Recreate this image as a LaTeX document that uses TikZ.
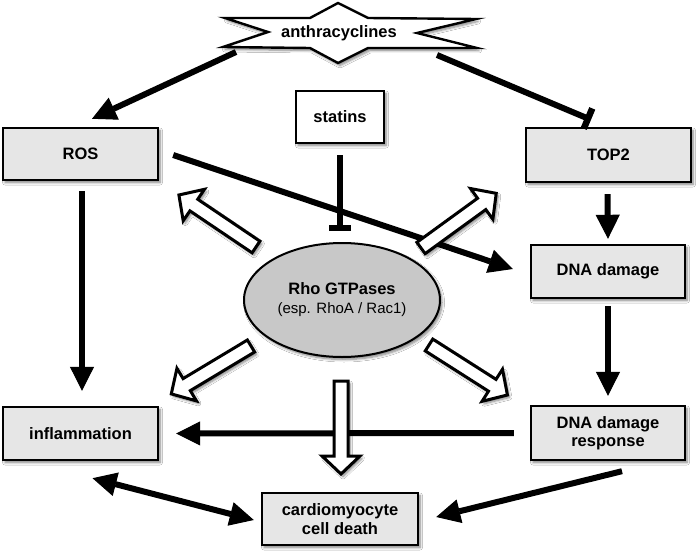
\documentclass[tikz,border=0pt]{standalone}
\usepackage{fontspec}
\setmainfont{Liberation Sans}
\usetikzlibrary{arrows.meta,shadows.blur,shapes.geometric,calc}
\definecolor{boxgray}{HTML}{E6E6E6}
\definecolor{ellgray}{HTML}{C8C8C8}
\tikzset{
 shad/.style={blur shadow={shadow xshift=2pt,shadow yshift=-2.5pt,shadow blur radius=2.5pt,shadow blur steps=6,shadow opacity=50}},
 box/.style={draw=black,line width=2.4pt,fill=boxgray,minimum width=155pt,minimum height=52pt,inner sep=0pt,align=center,font=\fontsize{16.5}{18.5}\selectfont\bfseries,shad},
 arr/.style={draw=black,line width=6pt,-{Triangle[length=24pt,width=24pt,fill=black,line width=1pt]}},
 dblarr/.style={draw=black,line width=6pt,{Triangle[length=24pt,width=24pt,fill=black,line width=1pt]}-{Triangle[length=24pt,width=24pt,fill=black,line width=1pt]}},
 inhib/.style={draw=black,line width=6pt,-{Bar[width=22pt,line width=6.5pt]}},
 hollow/.style={draw=black,fill=white,line width=3pt,line join=miter,shad},
 starshape/.style={draw=black,fill=white,line width=2.4pt,line join=miter,shad},
 pics/hollowarrow/.style={code={\path[hollow] (0,-7) -- (75,-7) -- (75,-19) -- (93,0) -- (75,19) -- (75,7) -- (0,7) -- cycle;}}
}
\begin{document}
\begin{tikzpicture}[x=1pt,y=-1pt]
\useasboundingbox[fill=white] (0,0) rectangle (700,556);

% anthracyclines shape
\path[starshape] (225,18) -- (310,18) -- (338,3) -- (368,18) -- (476,19) -- (417,33) -- (477,48) -- (368,48) -- (338,63) -- (310,48) -- (223,47) -- (268,32) -- cycle;
\node[inner sep=0pt,font=\fontsize{16.5}{18.5}\selectfont\bfseries] (anth) at (339,33) {anthracyclines};

% boxes
\node[box] (ros) at (80.5,154) {ROS};
\node[box,minimum width=165pt,minimum height=54pt] (top2) at (608.5,155) {TOP2};
\node[box,minimum width=154pt,minimum height=53pt] (dna) at (608,271.5) {DNA damage};
\node[box,minimum width=154pt,minimum height=54pt] (ddr) at (608,433) {DNA damage\\response};
\node[box,minimum height=53pt] (infl) at (80.5,433.5) {inflammation};
\node[box,minimum width=156pt] (cardio) at (340,519) {cardiomyocyte\\cell death};
\node[box,fill=white,minimum width=88pt] (statins) at (340,117) {statins};

% Rho GTPases
\node[ellipse,draw=black,line width=2pt,fill=ellgray,minimum width=196pt,minimum height=114pt,inner sep=0pt,align=center,font=\fontsize{16.5}{19}\selectfont,shad] (rho) at (342,300)
 {\bfseries Rho GTPases\\ \fontsize{15}{19}\selectfont (esp. RhoA / Rac1)};

% black connectors
\draw[arr] ($(anth)+(-103,19)$) -- ($(ros.north)+(11.5,-8)$);
\draw[inhib] ($(anth)+(98,22)$) -- ($(top2.north)+(-17.5,-7)$);
\draw[inhib] ($(statins.south)+(0,11)$) -- ($(rho.north)+(-2,-11)$);
\draw[arr] ($(ros.east)+(14,1)$) -- ($(dna.west)+(-17,-2.5)$);
\draw[arr] ($(ros.south)+(1.5,10)$) -- ($(infl.north)+(1.5,-15)$);
\draw[arr] ($(top2.south)+(-1,11)$) -- ($(dna.north)+(0,-5)$);
\draw[arr] ($(dna.south)+(0,7)$) -- ($(ddr.north)+(0,-9)$);
\draw[arr] ($(ddr.west)+(-16,0)$) -- ($(infl.east)+(17,0)$);
\draw[dblarr] ($(infl.south)+(12,17)$) -- ($(cardio.west)+(-7,1)$);
\draw[arr] ($(ddr.south)+(14,10)$) -- ($(cardio.east)+(17,-2)$);

% hollow arrows from Rho GTPases
\pic[rotate=146] at (256,247) {hollowarrow};
\pic[rotate=36] at (421,248) {hollowarrow};
\pic[rotate=211] at (251,346) {hollowarrow};
\pic[rotate=-32.5] at (429,345) {hollowarrow};
\pic[rotate=-90] at (341,381) {hollowarrow};
\end{tikzpicture}
\end{document}
